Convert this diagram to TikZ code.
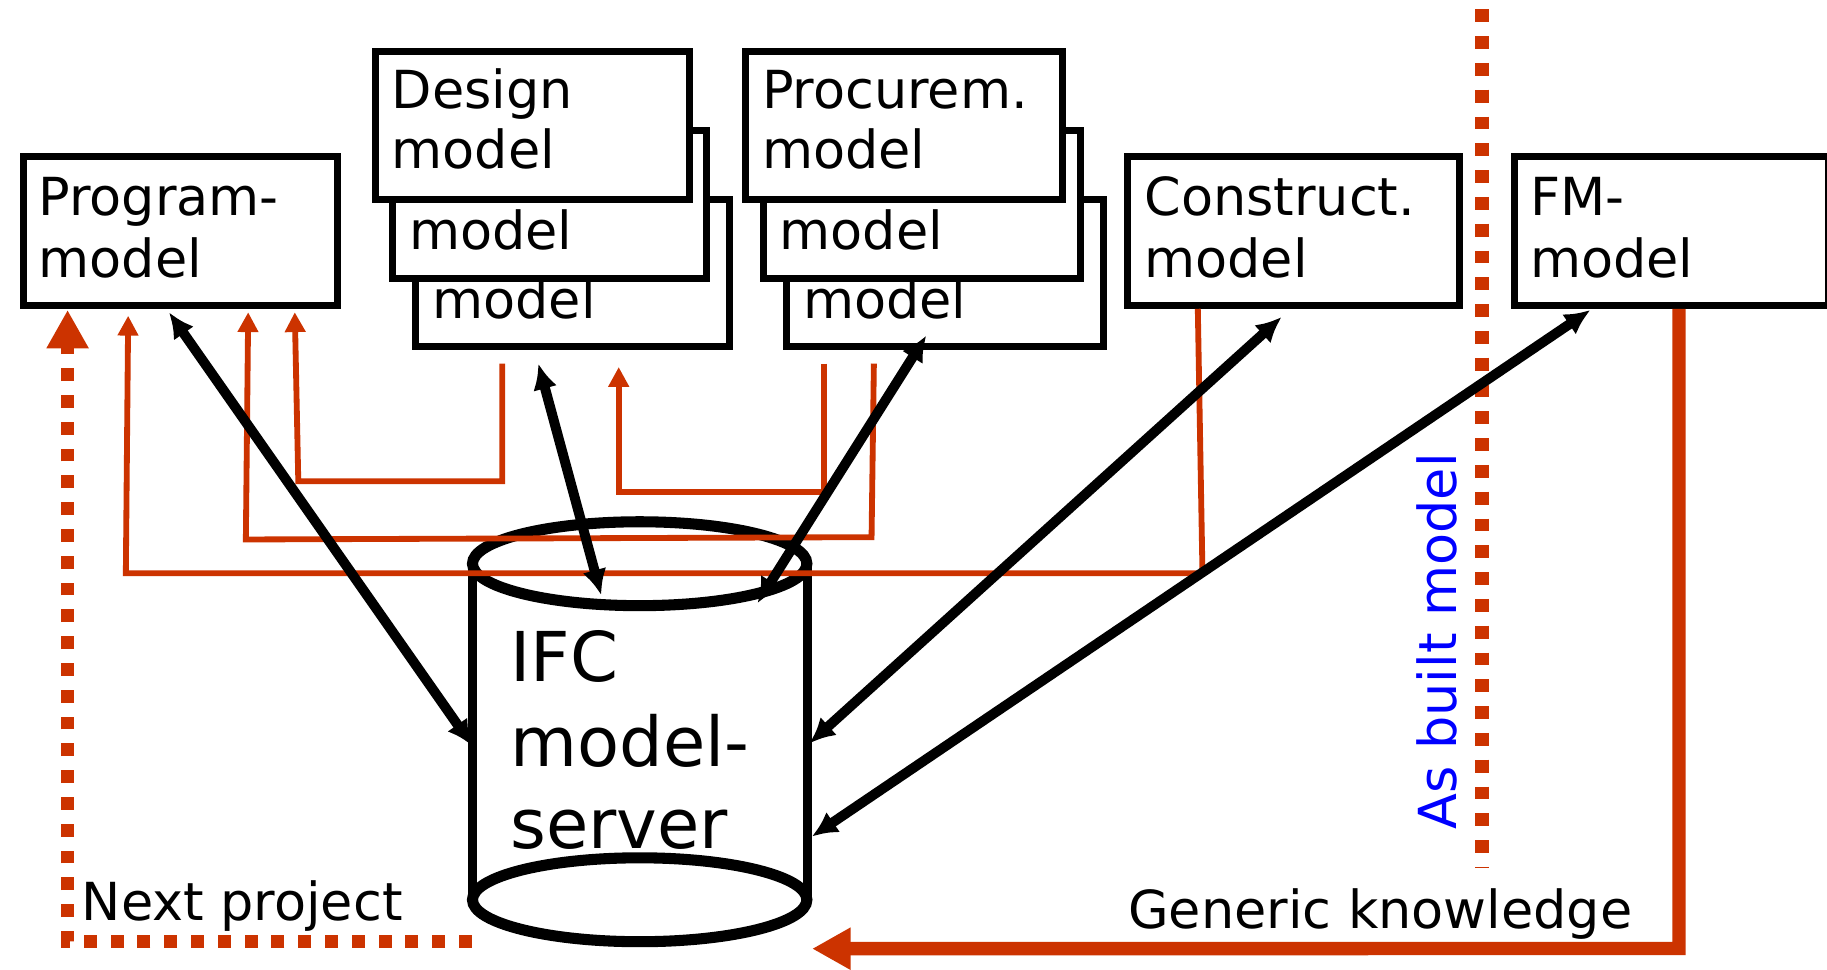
\documentclass[tikz,border=0pt]{standalone}
\usepackage{fontspec}
\setmainfont{DejaVu Sans}
\usetikzlibrary{arrows.meta,calc}
\definecolor{rust}{HTML}{CC3300}
\begin{document}
\begin{tikzpicture}[x=1pt,y=-1pt,
  box/.style={draw=black,line width=6pt,fill=white,inner sep=0pt,anchor=north west},
  lbl/.style={anchor=base west,inner sep=0pt,font=\fontsize{45}{54}\selectfont},
  biglbl/.style={anchor=base west,inner sep=0pt,font=\fontsize{59}{70}\selectfont},
  thinline/.style={draw=rust,line width=5pt},
  thinarr/.style={thinline,-{Triangle[length=17pt,width=17pt]}},
  blk/.style={draw=black,line width=8.5pt,{Latex[length=22pt,width=21pt]}-{Latex[length=22pt,width=21pt]}},
]
\useasboundingbox (0,0) rectangle (1568,832);
\fill[white] (0,0) rectangle (1568,832);

% boxes
\node[box,minimum width=270pt,minimum height=128pt] (prog) at (17,131) {};
\node[box,minimum width=269pt,minimum height=126pt] (des3) at (354,168) {};
\node[box,minimum width=269pt,minimum height=127pt] (des2) at (334,109) {};
\node[box,minimum width=270pt,minimum height=127pt] (des1) at (319,41) {};
\node[box,minimum width=272pt,minimum height=126pt] (pro3) at (672,168) {};
\node[box,minimum width=272pt,minimum height=127pt] (pro2) at (652,109) {};
\node[box,minimum width=272pt,minimum height=127pt] (pro1) at (637,41) {};
\node[box,minimum width=285pt,minimum height=128pt] (con) at (965,131) {};
\node[box,minimum width=269pt,minimum height=128pt] (fm) at (1297,131) {};

% box texts
\node[lbl] (t1) at (33,185) {Program-};
\node[lbl] (t2) at (33,238) {model};
\node[lbl] (t3) at (336,93) {Design};
\node[lbl] (t4) at (336,145) {model};
\node[lbl] (t5) at (351,214) {model};
\node[lbl] (t6) at (371,273) {model};
\node[lbl] (t7) at (654,93) {Procurem.};
\node[lbl] (t8) at (654,145) {model};
\node[lbl] (t9) at (669,214) {model};
\node[lbl] (t10) at (689,273) {model};
\node[lbl] (t11) at (982,185) {Construct.};
\node[lbl] (t12) at (982,238) {model};
\node[lbl] (t13) at (1313,185) {FM-};
\node[lbl] (t14) at (1313,238) {model};

% cylinder
\node[inner sep=0pt,minimum width=287pt,minimum height=288pt] (ifc) at (549,628) {};
\draw[line width=7.5pt] (ifc.north west) -- (ifc.south west);
\draw[line width=7.5pt] (ifc.north east) -- (ifc.south east);
\draw[line width=9.5pt] (ifc.north) ellipse [x radius=143.5, y radius=36];
\draw[line width=9.5pt] (ifc.south) ellipse [x radius=143.5, y radius=36];
\node[biglbl] (i1) at (438,585) {IFC};
\node[biglbl] (i2) at (438,658) {model-};
\node[biglbl] (i3) at (438,728) {server};

% thin red connectors
\draw[thinarr] ($(con.south west)+(63,0)$) -- (1032,492) -- (108,492) -- ($(prog.south west)+(93,6)$);
\draw[thinarr] ($(pro3.south west)+(78,12)$) -- (748,461) -- (211,463) -- ($(prog.south west)+(196,3)$);
\draw[thinarr] ($(pro3.south west)+(35,12)$) -- (707,422) -- (531,422) -- ($(des3.south west)+(177,15)$);
\draw[thinarr] ($(des3.south west)+(77,12)$) -- (431,413) -- (256,413) -- ($(prog.south west)+(236,3)$);

% next project
\coordinate (np) at (405,808);
\draw[rust,line width=11.5pt,dash pattern=on 11pt off 12pt,-{Triangle[length=33pt,width=34pt]}] (np) -- (58,808) -- ($(prog.south west)+(41,1)$);
\node[lbl] (nplbl) at (70,790) {Next project};

% generic knowledge
\draw[rust,line width=11.5pt,-{Triangle[length=33pt,width=34pt]}] ($(fm.south west)+(144,0)$) -- (1441,814) -- ($(ifc.south)+(148,42)$);
\node[lbl] (gk) at (968,797) {Generic knowledge};

% as built divider
\draw[rust,line width=11.5pt,dash pattern=on 11pt off 12pt] (1272,8) -- (1272,745);
\node[lbl,rotate=90,text=blue] (ab) at (1250,712) {As built model};

% black double arrows
\draw[blk] ($(prog.south west)+(128,3)$) -- ($(ifc.west)+(0,12)$);
\draw[blk] ($(des3.south west)+(108,12)$) -- ($(ifc.north)+(-33,27)$);
\draw[blk] ($(pro3.south west)+(123,-12)$) -- ($(ifc.north)+(101,34)$);
\draw[blk] ($(con.south west)+(135,7)$) -- ($(ifc.east)+(2,10)$);
\draw[blk] ($(fm.south west)+(68,1)$) -- ($(ifc.east)+(4,90)$);
\end{tikzpicture}
\end{document}
